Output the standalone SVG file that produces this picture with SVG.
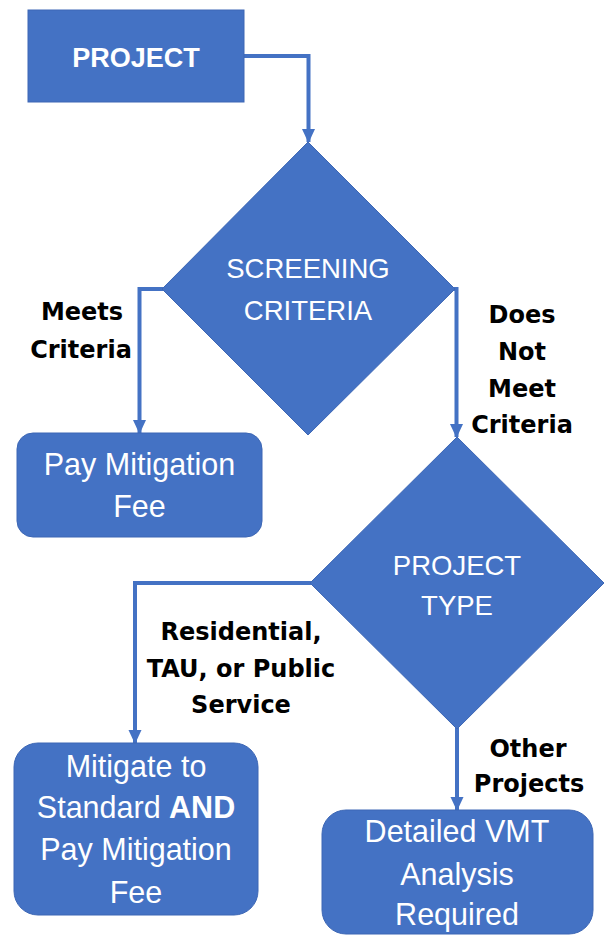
<svg xmlns="http://www.w3.org/2000/svg" width="605" height="936" viewBox="0 0 605 936">
  <defs>
    <marker id="arrow" markerWidth="14" markerHeight="14" refX="13" refY="7" orient="auto" markerUnits="userSpaceOnUse">
      <path d="M0,0.5 L14,7 L0,13.5 Z" fill="#4472C4"/>
    </marker>
    <style>
      .shape { fill: #4472C4; stroke: #3D67B5; stroke-width: 1; }
      .conn { fill: none; stroke: #4472C4; stroke-width: 4; marker-end: url(#arrow); }
      .node-text { font-family: "Liberation Sans", Arial, sans-serif; fill: #FFFFFF; text-anchor: middle; }
      .box-text { font-size: 30.5px; }
      .dia-text { font-size: 27.5px; }
      .label { font-family: "DejaVu Sans", "Liberation Sans", sans-serif; font-weight: bold; font-size: 24px; fill: #000000; text-anchor: middle; }
    </style>
  </defs>

  <!-- connectors -->
  <g id="connectors">
    <path class="conn" d="M244,56 H308.5 V142"/>
    <path class="conn" d="M163,289 H139.5 V433"/>
    <path class="conn" d="M454,289 H456.5 V437"/>
    <path class="conn" d="M311,583 H135 V743"/>
    <path class="conn" d="M457,728 V810"/>
  </g>

  <!-- start box -->
  <g id="project">
    <rect class="shape" x="28" y="10" width="216" height="92" stroke="#2F5597"/>
    <text class="node-text" x="136" y="67" font-size="27" font-weight="bold">PROJECT</text>
  </g>

  <!-- screening decision -->
  <g id="screening">
    <polygon class="shape" points="308,142 455,289 308,435 162,289" stroke="none"/>
    <text class="node-text dia-text" x="308" y="278">SCREENING</text>
    <text class="node-text dia-text" x="308" y="320">CRITERIA</text>
  </g>

  <!-- fee only outcome -->
  <g id="pay-fee">
    <rect class="shape" x="17" y="433" width="245" height="104" rx="16" ry="16"/>
    <text class="node-text box-text" x="139.5" y="475">Pay Mitigation</text>
    <text class="node-text box-text" x="139.5" y="517">Fee</text>
  </g>

  <!-- project type decision -->
  <g id="project-type">
    <polygon class="shape" points="457,437 604,583 457,729 310,583" stroke="none"/>
    <text class="node-text dia-text" x="457" y="575">PROJECT</text>
    <text class="node-text dia-text" x="457" y="615">TYPE</text>
  </g>

  <!-- mitigate outcome -->
  <g id="mitigate">
    <rect class="shape" x="14" y="743" width="244" height="172" rx="24" ry="24"/>
    <text class="node-text box-text" x="136" y="777">Mitigate to</text>
    <text class="node-text box-text" x="136" y="818">Standard <tspan font-weight="bold">AND</tspan></text>
    <text class="node-text box-text" x="136" y="860">Pay Mitigation</text>
    <text class="node-text box-text" x="136" y="903">Fee</text>
  </g>

  <!-- detailed analysis outcome -->
  <g id="detailed-vmt">
    <rect class="shape" x="322" y="810" width="271" height="124" rx="24" ry="24"/>
    <text class="node-text box-text" x="457" y="842">Detailed VMT</text>
    <text class="node-text box-text" x="457" y="885">Analysis</text>
    <text class="node-text box-text" x="457" y="925">Required</text>
  </g>

  <!-- branch labels -->
  <g id="labels">
    <text class="label" x="82" y="320">Meets</text>
    <text class="label" x="81" y="358">Criteria</text>
    <text class="label" x="522" y="323">Does</text>
    <text class="label" x="522" y="360">Not</text>
    <text class="label" x="522" y="397">Meet</text>
    <text class="label" x="522" y="433">Criteria</text>
    <text class="label" x="241" y="640">Residential,</text>
    <text class="label" x="241" y="677">TAU, or Public</text>
    <text class="label" x="241" y="713">Service</text>
    <text class="label" x="528" y="757">Other</text>
    <text class="label" x="529" y="792">Projects</text>
  </g>
</svg>
